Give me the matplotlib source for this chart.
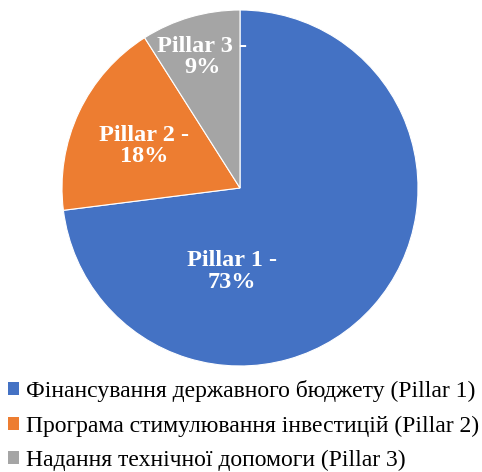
import matplotlib.pyplot as plt
from matplotlib.patches import Patch

plt.rcParams['font.family'] = ['Liberation Serif', 'DejaVu Serif']

shares = [73, 18, 9]
pie_labels = ["Pillar 1 -\n73%", "Pillar 2 -\n18%", "Pillar 3 -\n9%"]
legend_labels = [
    "Фінансування державного бюджету (Pillar 1)",
    "Програма стимулювання інвестицій (Pillar 2)",
    "Надання технічної допомоги (Pillar 3)",
]
colors = ["#4472C4", "#ED7D31", "#A5A5A5"]
label_pos = [(-0.045, -0.47), (-0.54, 0.236), (-0.213, 0.736)]

W, H = 482, 472
fig = plt.figure(figsize=(W / 100, H / 100), dpi=100)
cx, cy, r = 240, 188, 178
ax = fig.add_axes([(cx - r) / W, (H - cy - r) / H, 2 * r / W, 2 * r / H])

wedges, _ = ax.pie(shares, colors=colors, startangle=90, counterclock=False,
                   radius=1, wedgeprops=dict(edgecolor="white", linewidth=0.8))
for txt, (x, y) in zip(pie_labels, label_pos):
    ax.text(x, y, txt, ha="center", va="center", color="white",
            fontsize=17.5, fontweight="bold", linespacing=1.05)
ax.set_xlim(-1, 1)
ax.set_ylim(-1, 1)
ax.set_aspect("equal")
ax.axis("off")

handles = [Patch(facecolor=c, edgecolor="none") for c in colors]
fig.legend(handles, legend_labels, loc="upper left", bbox_to_anchor=(0.011, 1 - 378 / H),
           frameon=False, fontsize=17, handlelength=0.47, handleheight=0.47,
           handletextpad=0.3, labelspacing=0.56, borderaxespad=0, borderpad=0.1)

fig.savefig("out.png", dpi=100)
